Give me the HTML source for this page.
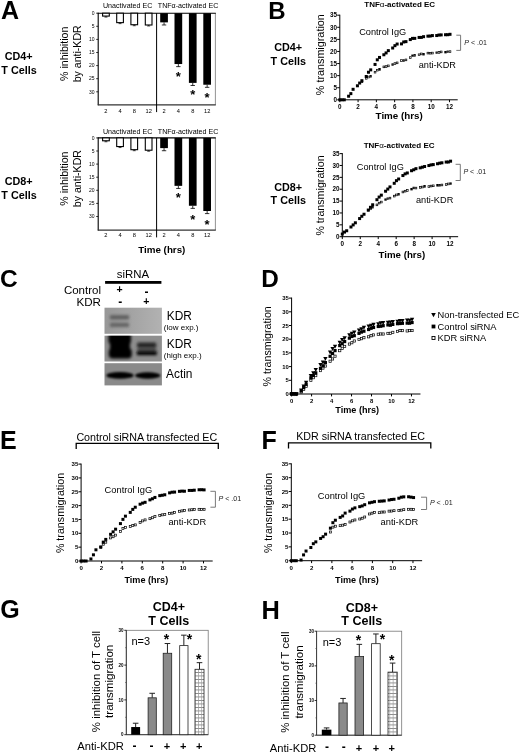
<!DOCTYPE html>
<html><head><meta charset="utf-8"><title>Figure</title>
<style>
html,body{margin:0;padding:0;background:#fff;}
body{width:520px;height:754px;overflow:hidden;}
svg{display:block;font-family:"Liberation Sans", Arial, sans-serif;}
svg text{font-family:"Liberation Sans", Arial, sans-serif;}
</style></head><body>
<svg width="520" height="754" viewBox="0 0 520 754">
<rect width="520" height="754" fill="#fff"/>
<text x="1.00" y="19.10" text-anchor="start" style="font-size:25px;font-weight:bold;" fill="#000">A</text>
<text x="268.20" y="18.50" text-anchor="start" style="font-size:24px;font-weight:bold;" fill="#000">B</text>
<text x="0.10" y="287.40" text-anchor="start" style="font-size:24.5px;font-weight:bold;" fill="#000">C</text>
<text x="261.30" y="286.90" text-anchor="start" style="font-size:24.3px;font-weight:bold;" fill="#000">D</text>
<text x="0.05" y="448.50" text-anchor="start" style="font-size:25px;font-weight:bold;" fill="#000">E</text>
<text x="261.60" y="448.50" text-anchor="start" style="font-size:25px;font-weight:bold;" fill="#000">F</text>
<text x="0.30" y="618.20" text-anchor="start" style="font-size:25px;font-weight:bold;" fill="#000">G</text>
<text x="261.60" y="618.50" text-anchor="start" style="font-size:25.4px;font-weight:bold;" fill="#000">H</text>
<line x1="215.40" y1="13.20" x2="215.40" y2="104.80" stroke="#777" stroke-width="0.8"/>
<line x1="98.20" y1="12.80" x2="98.20" y2="105.20" stroke="#000" stroke-width="1.1"/>
<line x1="97.80" y1="13.20" x2="215.80" y2="13.20" stroke="#000" stroke-width="1.1"/>
<line x1="97.80" y1="104.80" x2="215.80" y2="104.80" stroke="#333" stroke-width="1.2"/>
<line x1="156.60" y1="13.20" x2="156.60" y2="112.10" stroke="#000" stroke-width="1.0"/>
<line x1="96.20" y1="13.20" x2="98.20" y2="13.20" stroke="#000" stroke-width="0.8"/>
<text x="94.60" y="14.99" text-anchor="end" style="font-size:5.0px;" fill="#000">0</text>
<line x1="96.20" y1="26.30" x2="98.20" y2="26.30" stroke="#000" stroke-width="0.8"/>
<text x="94.60" y="28.09" text-anchor="end" style="font-size:5.0px;" fill="#000">5</text>
<line x1="96.20" y1="39.40" x2="98.20" y2="39.40" stroke="#000" stroke-width="0.8"/>
<text x="94.60" y="41.19" text-anchor="end" style="font-size:5.0px;" fill="#000">10</text>
<line x1="96.20" y1="52.50" x2="98.20" y2="52.50" stroke="#000" stroke-width="0.8"/>
<text x="94.60" y="54.29" text-anchor="end" style="font-size:5.0px;" fill="#000">15</text>
<line x1="96.20" y1="65.60" x2="98.20" y2="65.60" stroke="#000" stroke-width="0.8"/>
<text x="94.60" y="67.39" text-anchor="end" style="font-size:5.0px;" fill="#000">20</text>
<line x1="96.20" y1="78.70" x2="98.20" y2="78.70" stroke="#000" stroke-width="0.8"/>
<text x="94.60" y="80.49" text-anchor="end" style="font-size:5.0px;" fill="#000">25</text>
<line x1="96.20" y1="91.80" x2="98.20" y2="91.80" stroke="#000" stroke-width="0.8"/>
<text x="94.60" y="93.59" text-anchor="end" style="font-size:5.0px;" fill="#000">30</text>
<rect x="102.60" y="13.20" width="6.70" height="2.88" fill="#fff" stroke="#000" stroke-width="1.1"/>
<line x1="105.95" y1="16.08" x2="105.95" y2="17.08" stroke="#000" stroke-width="0.7"/>
<line x1="104.45" y1="17.08" x2="107.45" y2="17.08" stroke="#000" stroke-width="0.7"/>
<rect x="116.70" y="13.20" width="6.70" height="9.43" fill="#fff" stroke="#000" stroke-width="1.1"/>
<line x1="120.05" y1="22.63" x2="120.05" y2="23.63" stroke="#000" stroke-width="0.7"/>
<line x1="118.55" y1="23.63" x2="121.55" y2="23.63" stroke="#000" stroke-width="0.7"/>
<rect x="130.90" y="13.20" width="6.70" height="11.53" fill="#fff" stroke="#000" stroke-width="1.1"/>
<line x1="134.25" y1="24.73" x2="134.25" y2="25.73" stroke="#000" stroke-width="0.7"/>
<line x1="132.75" y1="25.73" x2="135.75" y2="25.73" stroke="#000" stroke-width="0.7"/>
<rect x="145.30" y="13.20" width="6.70" height="11.79" fill="#fff" stroke="#000" stroke-width="1.1"/>
<line x1="148.65" y1="24.99" x2="148.65" y2="25.99" stroke="#000" stroke-width="0.7"/>
<line x1="147.15" y1="25.99" x2="150.15" y2="25.99" stroke="#000" stroke-width="0.7"/>
<rect x="160.20" y="13.20" width="7.70" height="9.17" fill="#000"/>
<line x1="164.05" y1="22.37" x2="164.05" y2="24.97" stroke="#000" stroke-width="0.8"/>
<line x1="161.85" y1="24.97" x2="166.25" y2="24.97" stroke="#000" stroke-width="0.8"/>
<rect x="174.50" y="13.20" width="7.70" height="50.83" fill="#000"/>
<line x1="178.35" y1="64.03" x2="178.35" y2="66.63" stroke="#000" stroke-width="0.8"/>
<line x1="176.15" y1="66.63" x2="180.55" y2="66.63" stroke="#000" stroke-width="0.8"/>
<rect x="188.90" y="13.20" width="7.70" height="69.69" fill="#000"/>
<line x1="192.75" y1="82.89" x2="192.75" y2="85.49" stroke="#000" stroke-width="0.8"/>
<line x1="190.55" y1="85.49" x2="194.95" y2="85.49" stroke="#000" stroke-width="0.8"/>
<rect x="203.30" y="13.20" width="7.70" height="71.53" fill="#000"/>
<line x1="207.15" y1="84.73" x2="207.15" y2="87.33" stroke="#000" stroke-width="0.8"/>
<line x1="204.95" y1="87.33" x2="209.35" y2="87.33" stroke="#000" stroke-width="0.8"/>
<text x="178.35" y="80.65" text-anchor="middle" style="font-size:13px;font-weight:bold;" fill="#000">*</text>
<text x="192.75" y="99.15" text-anchor="middle" style="font-size:13px;font-weight:bold;" fill="#000">*</text>
<text x="207.15" y="102.05" text-anchor="middle" style="font-size:13px;font-weight:bold;" fill="#000">*</text>
<text x="105.95" y="113.14" text-anchor="middle" style="font-size:5.7px;" fill="#000">2</text>
<text x="120.05" y="113.14" text-anchor="middle" style="font-size:5.7px;" fill="#000">4</text>
<text x="134.25" y="113.14" text-anchor="middle" style="font-size:5.7px;" fill="#000">8</text>
<text x="148.65" y="113.14" text-anchor="middle" style="font-size:5.7px;" fill="#000">12</text>
<text x="164.05" y="113.14" text-anchor="middle" style="font-size:5.7px;" fill="#000">2</text>
<text x="178.35" y="113.14" text-anchor="middle" style="font-size:5.7px;" fill="#000">4</text>
<text x="192.75" y="113.14" text-anchor="middle" style="font-size:5.7px;" fill="#000">8</text>
<text x="207.15" y="113.14" text-anchor="middle" style="font-size:5.7px;" fill="#000">12</text>
<text x="103.00" y="8.30" text-anchor="start" style="font-size:7.1px;" fill="#000">Unactivated EC</text>
<text x="157.80" y="8.30" text-anchor="start" style="font-size:7.1px;" fill="#000">TNFα-activated EC</text>
<line x1="215.40" y1="137.90" x2="215.40" y2="230.10" stroke="#777" stroke-width="0.8"/>
<line x1="98.20" y1="137.50" x2="98.20" y2="230.50" stroke="#000" stroke-width="1.1"/>
<line x1="97.80" y1="137.90" x2="215.80" y2="137.90" stroke="#000" stroke-width="1.1"/>
<line x1="97.80" y1="230.10" x2="215.80" y2="230.10" stroke="#333" stroke-width="1.2"/>
<line x1="156.60" y1="137.90" x2="156.60" y2="237.40" stroke="#000" stroke-width="1.0"/>
<line x1="96.20" y1="137.90" x2="98.20" y2="137.90" stroke="#000" stroke-width="0.8"/>
<text x="94.60" y="139.69" text-anchor="end" style="font-size:5.0px;" fill="#000">0</text>
<line x1="96.20" y1="151.00" x2="98.20" y2="151.00" stroke="#000" stroke-width="0.8"/>
<text x="94.60" y="152.79" text-anchor="end" style="font-size:5.0px;" fill="#000">5</text>
<line x1="96.20" y1="164.10" x2="98.20" y2="164.10" stroke="#000" stroke-width="0.8"/>
<text x="94.60" y="165.89" text-anchor="end" style="font-size:5.0px;" fill="#000">10</text>
<line x1="96.20" y1="177.20" x2="98.20" y2="177.20" stroke="#000" stroke-width="0.8"/>
<text x="94.60" y="178.99" text-anchor="end" style="font-size:5.0px;" fill="#000">15</text>
<line x1="96.20" y1="190.30" x2="98.20" y2="190.30" stroke="#000" stroke-width="0.8"/>
<text x="94.60" y="192.09" text-anchor="end" style="font-size:5.0px;" fill="#000">20</text>
<line x1="96.20" y1="203.40" x2="98.20" y2="203.40" stroke="#000" stroke-width="0.8"/>
<text x="94.60" y="205.19" text-anchor="end" style="font-size:5.0px;" fill="#000">25</text>
<line x1="96.20" y1="216.50" x2="98.20" y2="216.50" stroke="#000" stroke-width="0.8"/>
<text x="94.60" y="218.29" text-anchor="end" style="font-size:5.0px;" fill="#000">30</text>
<rect x="102.60" y="137.90" width="6.70" height="2.88" fill="#fff" stroke="#000" stroke-width="1.1"/>
<line x1="105.95" y1="140.78" x2="105.95" y2="141.78" stroke="#000" stroke-width="0.7"/>
<line x1="104.45" y1="141.78" x2="107.45" y2="141.78" stroke="#000" stroke-width="0.7"/>
<rect x="116.70" y="137.90" width="6.70" height="8.65" fill="#fff" stroke="#000" stroke-width="1.1"/>
<line x1="120.05" y1="146.55" x2="120.05" y2="147.55" stroke="#000" stroke-width="0.7"/>
<line x1="118.55" y1="147.55" x2="121.55" y2="147.55" stroke="#000" stroke-width="0.7"/>
<rect x="130.90" y="137.90" width="6.70" height="11.79" fill="#fff" stroke="#000" stroke-width="1.1"/>
<line x1="134.25" y1="149.69" x2="134.25" y2="150.69" stroke="#000" stroke-width="0.7"/>
<line x1="132.75" y1="150.69" x2="135.75" y2="150.69" stroke="#000" stroke-width="0.7"/>
<rect x="145.30" y="137.90" width="6.70" height="12.31" fill="#fff" stroke="#000" stroke-width="1.1"/>
<line x1="148.65" y1="150.21" x2="148.65" y2="151.21" stroke="#000" stroke-width="0.7"/>
<line x1="147.15" y1="151.21" x2="150.15" y2="151.21" stroke="#000" stroke-width="0.7"/>
<rect x="160.20" y="137.90" width="7.70" height="10.22" fill="#000"/>
<line x1="164.05" y1="148.12" x2="164.05" y2="150.72" stroke="#000" stroke-width="0.8"/>
<line x1="161.85" y1="150.72" x2="166.25" y2="150.72" stroke="#000" stroke-width="0.8"/>
<rect x="174.50" y="137.90" width="7.70" height="47.95" fill="#000"/>
<line x1="178.35" y1="185.85" x2="178.35" y2="188.45" stroke="#000" stroke-width="0.8"/>
<line x1="176.15" y1="188.45" x2="180.55" y2="188.45" stroke="#000" stroke-width="0.8"/>
<rect x="188.90" y="137.90" width="7.70" height="67.86" fill="#000"/>
<line x1="192.75" y1="205.76" x2="192.75" y2="208.36" stroke="#000" stroke-width="0.8"/>
<line x1="190.55" y1="208.36" x2="194.95" y2="208.36" stroke="#000" stroke-width="0.8"/>
<rect x="203.30" y="137.90" width="7.70" height="73.10" fill="#000"/>
<line x1="207.15" y1="211.00" x2="207.15" y2="213.60" stroke="#000" stroke-width="0.8"/>
<line x1="204.95" y1="213.60" x2="209.35" y2="213.60" stroke="#000" stroke-width="0.8"/>
<text x="178.35" y="201.85" text-anchor="middle" style="font-size:13px;font-weight:bold;" fill="#000">*</text>
<text x="192.75" y="223.65" text-anchor="middle" style="font-size:13px;font-weight:bold;" fill="#000">*</text>
<text x="207.15" y="229.45" text-anchor="middle" style="font-size:13px;font-weight:bold;" fill="#000">*</text>
<text x="105.95" y="237.24" text-anchor="middle" style="font-size:5.7px;" fill="#000">2</text>
<text x="120.05" y="237.24" text-anchor="middle" style="font-size:5.7px;" fill="#000">4</text>
<text x="134.25" y="237.24" text-anchor="middle" style="font-size:5.7px;" fill="#000">8</text>
<text x="148.65" y="237.24" text-anchor="middle" style="font-size:5.7px;" fill="#000">12</text>
<text x="164.05" y="237.24" text-anchor="middle" style="font-size:5.7px;" fill="#000">2</text>
<text x="178.35" y="237.24" text-anchor="middle" style="font-size:5.7px;" fill="#000">4</text>
<text x="192.75" y="237.24" text-anchor="middle" style="font-size:5.7px;" fill="#000">8</text>
<text x="207.15" y="237.24" text-anchor="middle" style="font-size:5.7px;" fill="#000">12</text>
<text x="103.00" y="134.00" text-anchor="start" style="font-size:7.1px;" fill="#000">Unactivated EC</text>
<text x="157.80" y="134.00" text-anchor="start" style="font-size:7.1px;" fill="#000">TNFα-activated EC</text>
<text x="161.80" y="252.91" text-anchor="middle" style="font-size:9.8px;font-weight:bold;" fill="#000">Time (hrs)</text>
<text x="18.60" y="60.27" text-anchor="middle" style="font-size:10.8px;font-weight:bold;" fill="#000">CD4+</text>
<text x="19.00" y="73.67" text-anchor="middle" style="font-size:10.8px;font-weight:bold;" fill="#000">T Cells</text>
<text x="18.60" y="185.27" text-anchor="middle" style="font-size:10.8px;font-weight:bold;" fill="#000">CD8+</text>
<text x="19.00" y="198.97" text-anchor="middle" style="font-size:10.8px;font-weight:bold;" fill="#000">T Cells</text>
<text x="68.19" y="53.80" text-anchor="middle" style="font-size:10.6px;" transform="rotate(-90 68.19 53.80)">% inhibition</text>
<text x="81.49" y="53.80" text-anchor="middle" style="font-size:10.6px;" transform="rotate(-90 81.49 53.80)">by anti-KDR</text>
<text x="68.19" y="178.60" text-anchor="middle" style="font-size:10.6px;" transform="rotate(-90 68.19 178.60)">% inhibition</text>
<text x="81.49" y="178.60" text-anchor="middle" style="font-size:10.6px;" transform="rotate(-90 81.49 178.60)">by anti-KDR</text>
<line x1="339.80" y1="100.30" x2="339.80" y2="14.70" stroke="#000" stroke-width="1.0"/>
<line x1="339.30" y1="99.80" x2="457.71" y2="99.80" stroke="#000" stroke-width="1.0"/>
<line x1="337.20" y1="99.80" x2="339.80" y2="99.80" stroke="#000" stroke-width="1.0"/>
<text x="337.00" y="102.06" text-anchor="end" style="font-size:6.3px;font-weight:bold;" fill="#000">0</text>
<line x1="337.20" y1="87.72" x2="339.80" y2="87.72" stroke="#000" stroke-width="1.0"/>
<text x="337.00" y="89.97" text-anchor="end" style="font-size:6.3px;font-weight:bold;" fill="#000">5</text>
<line x1="337.20" y1="75.63" x2="339.80" y2="75.63" stroke="#000" stroke-width="1.0"/>
<text x="337.00" y="77.89" text-anchor="end" style="font-size:6.3px;font-weight:bold;" fill="#000">10</text>
<line x1="337.20" y1="63.55" x2="339.80" y2="63.55" stroke="#000" stroke-width="1.0"/>
<text x="337.00" y="65.80" text-anchor="end" style="font-size:6.3px;font-weight:bold;" fill="#000">15</text>
<line x1="337.20" y1="51.46" x2="339.80" y2="51.46" stroke="#000" stroke-width="1.0"/>
<text x="337.00" y="53.72" text-anchor="end" style="font-size:6.3px;font-weight:bold;" fill="#000">20</text>
<line x1="337.20" y1="39.38" x2="339.80" y2="39.38" stroke="#000" stroke-width="1.0"/>
<text x="337.00" y="41.63" text-anchor="end" style="font-size:6.3px;font-weight:bold;" fill="#000">25</text>
<line x1="337.20" y1="27.29" x2="339.80" y2="27.29" stroke="#000" stroke-width="1.0"/>
<text x="337.00" y="29.55" text-anchor="end" style="font-size:6.3px;font-weight:bold;" fill="#000">30</text>
<line x1="337.20" y1="15.20" x2="339.80" y2="15.20" stroke="#000" stroke-width="1.0"/>
<text x="337.00" y="17.46" text-anchor="end" style="font-size:6.3px;font-weight:bold;" fill="#000">35</text>
<line x1="339.80" y1="99.80" x2="339.80" y2="102.20" stroke="#000" stroke-width="1.0"/>
<text x="339.80" y="109.36" text-anchor="middle" style="font-size:6.3px;font-weight:bold;" fill="#000">0</text>
<line x1="358.08" y1="99.80" x2="358.08" y2="102.20" stroke="#000" stroke-width="1.0"/>
<text x="358.08" y="109.36" text-anchor="middle" style="font-size:6.3px;font-weight:bold;" fill="#000">2</text>
<line x1="376.36" y1="99.80" x2="376.36" y2="102.20" stroke="#000" stroke-width="1.0"/>
<text x="376.36" y="109.36" text-anchor="middle" style="font-size:6.3px;font-weight:bold;" fill="#000">4</text>
<line x1="394.64" y1="99.80" x2="394.64" y2="102.20" stroke="#000" stroke-width="1.0"/>
<text x="394.64" y="109.36" text-anchor="middle" style="font-size:6.3px;font-weight:bold;" fill="#000">6</text>
<line x1="412.92" y1="99.80" x2="412.92" y2="102.20" stroke="#000" stroke-width="1.0"/>
<text x="412.92" y="109.36" text-anchor="middle" style="font-size:6.3px;font-weight:bold;" fill="#000">8</text>
<line x1="431.20" y1="99.80" x2="431.20" y2="102.20" stroke="#000" stroke-width="1.0"/>
<text x="431.20" y="109.36" text-anchor="middle" style="font-size:6.3px;font-weight:bold;" fill="#000">10</text>
<line x1="449.48" y1="99.80" x2="449.48" y2="102.20" stroke="#000" stroke-width="1.0"/>
<text x="449.48" y="109.36" text-anchor="middle" style="font-size:6.3px;font-weight:bold;" fill="#000">12</text>
<rect x="361.05" y="80.97" width="1.70" height="1.70" fill="#fff" stroke="#000" stroke-width="0.7"/><rect x="365.38" y="77.47" width="1.70" height="1.70" fill="#fff" stroke="#000" stroke-width="0.7"/><rect x="367.62" y="76.19" width="1.70" height="1.70" fill="#fff" stroke="#000" stroke-width="0.7"/><rect x="369.86" y="75.48" width="1.70" height="1.70" fill="#fff" stroke="#000" stroke-width="0.7"/><rect x="374.19" y="71.32" width="1.70" height="1.70" fill="#fff" stroke="#000" stroke-width="0.7"/><rect x="376.43" y="69.31" width="1.70" height="1.70" fill="#fff" stroke="#000" stroke-width="0.7"/><rect x="378.67" y="68.62" width="1.70" height="1.70" fill="#fff" stroke="#000" stroke-width="0.7"/><rect x="383.00" y="66.02" width="1.70" height="1.70" fill="#fff" stroke="#000" stroke-width="0.7"/><rect x="385.24" y="65.68" width="1.70" height="1.70" fill="#fff" stroke="#000" stroke-width="0.7"/><rect x="387.48" y="65.01" width="1.70" height="1.70" fill="#fff" stroke="#000" stroke-width="0.7"/><rect x="391.82" y="63.71" width="1.70" height="1.70" fill="#fff" stroke="#000" stroke-width="0.7"/><rect x="394.06" y="62.70" width="1.70" height="1.70" fill="#fff" stroke="#000" stroke-width="0.7"/><rect x="396.29" y="62.01" width="1.70" height="1.70" fill="#fff" stroke="#000" stroke-width="0.7"/><rect x="400.63" y="59.69" width="1.70" height="1.70" fill="#fff" stroke="#000" stroke-width="0.7"/><rect x="402.87" y="59.66" width="1.70" height="1.70" fill="#fff" stroke="#000" stroke-width="0.7"/><rect x="405.11" y="59.05" width="1.70" height="1.70" fill="#fff" stroke="#000" stroke-width="0.7"/><rect x="409.44" y="56.72" width="1.70" height="1.70" fill="#fff" stroke="#000" stroke-width="0.7"/><rect x="411.68" y="54.91" width="1.70" height="1.70" fill="#fff" stroke="#000" stroke-width="0.7"/><rect x="413.92" y="54.56" width="1.70" height="1.70" fill="#fff" stroke="#000" stroke-width="0.7"/><rect x="418.25" y="53.89" width="1.70" height="1.70" fill="#fff" stroke="#000" stroke-width="0.7"/><rect x="420.49" y="53.06" width="1.70" height="1.70" fill="#fff" stroke="#000" stroke-width="0.7"/><rect x="422.73" y="53.40" width="1.70" height="1.70" fill="#fff" stroke="#000" stroke-width="0.7"/><rect x="427.06" y="52.24" width="1.70" height="1.70" fill="#fff" stroke="#000" stroke-width="0.7"/><rect x="429.30" y="52.35" width="1.70" height="1.70" fill="#fff" stroke="#000" stroke-width="0.7"/><rect x="431.54" y="52.22" width="1.70" height="1.70" fill="#fff" stroke="#000" stroke-width="0.7"/><rect x="435.87" y="51.90" width="1.70" height="1.70" fill="#fff" stroke="#000" stroke-width="0.7"/><rect x="438.11" y="51.58" width="1.70" height="1.70" fill="#fff" stroke="#000" stroke-width="0.7"/><rect x="440.35" y="51.06" width="1.70" height="1.70" fill="#fff" stroke="#000" stroke-width="0.7"/><rect x="444.68" y="51.32" width="1.70" height="1.70" fill="#fff" stroke="#000" stroke-width="0.7"/><rect x="446.92" y="50.92" width="1.70" height="1.70" fill="#fff" stroke="#000" stroke-width="0.7"/><rect x="449.16" y="50.77" width="1.70" height="1.70" fill="#fff" stroke="#000" stroke-width="0.7"/>
<rect x="338.30" y="98.30" width="3.0" height="3.0" fill="#000"/><rect x="340.54" y="98.30" width="3.0" height="3.0" fill="#000"/><rect x="342.78" y="98.30" width="3.0" height="3.0" fill="#000"/><rect x="347.11" y="94.71" width="3.0" height="3.0" fill="#000"/><rect x="349.35" y="92.12" width="3.0" height="3.0" fill="#000"/><rect x="351.59" y="87.81" width="3.0" height="3.0" fill="#000"/><rect x="355.92" y="84.29" width="3.0" height="3.0" fill="#000"/><rect x="358.16" y="81.56" width="3.0" height="3.0" fill="#000"/><rect x="360.40" y="79.19" width="3.0" height="3.0" fill="#000"/><rect x="364.73" y="74.99" width="3.0" height="3.0" fill="#000"/><rect x="366.97" y="70.73" width="3.0" height="3.0" fill="#000"/><rect x="369.21" y="68.37" width="3.0" height="3.0" fill="#000"/><rect x="373.54" y="62.93" width="3.0" height="3.0" fill="#000"/><rect x="375.78" y="58.31" width="3.0" height="3.0" fill="#000"/><rect x="378.02" y="55.94" width="3.0" height="3.0" fill="#000"/><rect x="382.35" y="53.26" width="3.0" height="3.0" fill="#000"/><rect x="384.59" y="51.43" width="3.0" height="3.0" fill="#000"/><rect x="386.83" y="49.13" width="3.0" height="3.0" fill="#000"/><rect x="391.17" y="46.52" width="3.0" height="3.0" fill="#000"/><rect x="393.41" y="44.16" width="3.0" height="3.0" fill="#000"/><rect x="395.64" y="42.54" width="3.0" height="3.0" fill="#000"/><rect x="399.98" y="42.38" width="3.0" height="3.0" fill="#000"/><rect x="402.22" y="40.47" width="3.0" height="3.0" fill="#000"/><rect x="404.46" y="40.13" width="3.0" height="3.0" fill="#000"/><rect x="408.79" y="38.08" width="3.0" height="3.0" fill="#000"/><rect x="411.03" y="36.89" width="3.0" height="3.0" fill="#000"/><rect x="413.27" y="36.87" width="3.0" height="3.0" fill="#000"/><rect x="417.60" y="35.94" width="3.0" height="3.0" fill="#000"/><rect x="419.84" y="35.91" width="3.0" height="3.0" fill="#000"/><rect x="422.08" y="35.18" width="3.0" height="3.0" fill="#000"/><rect x="426.41" y="34.65" width="3.0" height="3.0" fill="#000"/><rect x="428.65" y="34.55" width="3.0" height="3.0" fill="#000"/><rect x="430.89" y="34.09" width="3.0" height="3.0" fill="#000"/><rect x="435.22" y="34.04" width="3.0" height="3.0" fill="#000"/><rect x="437.46" y="33.53" width="3.0" height="3.0" fill="#000"/><rect x="439.70" y="33.41" width="3.0" height="3.0" fill="#000"/><rect x="444.03" y="33.22" width="3.0" height="3.0" fill="#000"/><rect x="446.27" y="33.20" width="3.0" height="3.0" fill="#000"/><rect x="448.51" y="32.81" width="3.0" height="3.0" fill="#000"/>
<text x="399.70" y="7.26" text-anchor="middle" style="font-size:8.0px;font-weight:bold;" fill="#000">TNF<tspan style="font-weight:normal">α</tspan>-activated EC</text>
<text x="399.20" y="119.31" text-anchor="middle" style="font-size:9.8px;font-weight:bold;" fill="#000">Time (hrs)</text>
<text x="324.10" y="54.70" text-anchor="middle" style="font-size:10.8px;" transform="rotate(-90 324.10 54.70)">% transmigration</text>
<text x="359.20" y="34.99" text-anchor="start" style="font-size:9.2px;" fill="#000">Control IgG</text>
<text x="418.70" y="68.49" text-anchor="start" style="font-size:9.2px;" fill="#000">anti-KDR</text>
<path d="M456.30 35.20H460.60V50.40H456.30" fill="none" stroke="#6a6a6a" stroke-width="0.9"/>
<text x="464.20" y="45.00" text-anchor="start" style="font-size:7.1px;" fill="#222"><tspan style="font-style:italic">P</tspan> &lt; .01</text>
<line x1="342.30" y1="237.20" x2="342.30" y2="153.11" stroke="#000" stroke-width="1.0"/>
<line x1="341.80" y1="236.70" x2="458.14" y2="236.70" stroke="#000" stroke-width="1.0"/>
<line x1="339.70" y1="236.70" x2="342.30" y2="236.70" stroke="#000" stroke-width="1.0"/>
<text x="339.50" y="238.96" text-anchor="end" style="font-size:6.3px;font-weight:bold;" fill="#000">0</text>
<line x1="339.70" y1="224.83" x2="342.30" y2="224.83" stroke="#000" stroke-width="1.0"/>
<text x="339.50" y="227.09" text-anchor="end" style="font-size:6.3px;font-weight:bold;" fill="#000">5</text>
<line x1="339.70" y1="212.96" x2="342.30" y2="212.96" stroke="#000" stroke-width="1.0"/>
<text x="339.50" y="215.22" text-anchor="end" style="font-size:6.3px;font-weight:bold;" fill="#000">10</text>
<line x1="339.70" y1="201.09" x2="342.30" y2="201.09" stroke="#000" stroke-width="1.0"/>
<text x="339.50" y="203.35" text-anchor="end" style="font-size:6.3px;font-weight:bold;" fill="#000">15</text>
<line x1="339.70" y1="189.22" x2="342.30" y2="189.22" stroke="#000" stroke-width="1.0"/>
<text x="339.50" y="191.48" text-anchor="end" style="font-size:6.3px;font-weight:bold;" fill="#000">20</text>
<line x1="339.70" y1="177.35" x2="342.30" y2="177.35" stroke="#000" stroke-width="1.0"/>
<text x="339.50" y="179.61" text-anchor="end" style="font-size:6.3px;font-weight:bold;" fill="#000">25</text>
<line x1="339.70" y1="165.48" x2="342.30" y2="165.48" stroke="#000" stroke-width="1.0"/>
<text x="339.50" y="167.74" text-anchor="end" style="font-size:6.3px;font-weight:bold;" fill="#000">30</text>
<line x1="339.70" y1="153.61" x2="342.30" y2="153.61" stroke="#000" stroke-width="1.0"/>
<text x="339.50" y="155.87" text-anchor="end" style="font-size:6.3px;font-weight:bold;" fill="#000">35</text>
<line x1="342.30" y1="236.70" x2="342.30" y2="239.10" stroke="#000" stroke-width="1.0"/>
<text x="342.30" y="246.26" text-anchor="middle" style="font-size:6.3px;font-weight:bold;" fill="#000">0</text>
<line x1="360.26" y1="236.70" x2="360.26" y2="239.10" stroke="#000" stroke-width="1.0"/>
<text x="360.26" y="246.26" text-anchor="middle" style="font-size:6.3px;font-weight:bold;" fill="#000">2</text>
<line x1="378.22" y1="236.70" x2="378.22" y2="239.10" stroke="#000" stroke-width="1.0"/>
<text x="378.22" y="246.26" text-anchor="middle" style="font-size:6.3px;font-weight:bold;" fill="#000">4</text>
<line x1="396.18" y1="236.70" x2="396.18" y2="239.10" stroke="#000" stroke-width="1.0"/>
<text x="396.18" y="246.26" text-anchor="middle" style="font-size:6.3px;font-weight:bold;" fill="#000">6</text>
<line x1="414.14" y1="236.70" x2="414.14" y2="239.10" stroke="#000" stroke-width="1.0"/>
<text x="414.14" y="246.26" text-anchor="middle" style="font-size:6.3px;font-weight:bold;" fill="#000">8</text>
<line x1="432.10" y1="236.70" x2="432.10" y2="239.10" stroke="#000" stroke-width="1.0"/>
<text x="432.10" y="246.26" text-anchor="middle" style="font-size:6.3px;font-weight:bold;" fill="#000">10</text>
<line x1="450.06" y1="236.70" x2="450.06" y2="239.10" stroke="#000" stroke-width="1.0"/>
<text x="450.06" y="246.26" text-anchor="middle" style="font-size:6.3px;font-weight:bold;" fill="#000">12</text>
<rect x="367.42" y="209.37" width="1.70" height="1.70" fill="#fff" stroke="#000" stroke-width="0.7"/><rect x="369.62" y="207.99" width="1.70" height="1.70" fill="#fff" stroke="#000" stroke-width="0.7"/><rect x="371.82" y="206.40" width="1.70" height="1.70" fill="#fff" stroke="#000" stroke-width="0.7"/><rect x="376.08" y="204.02" width="1.70" height="1.70" fill="#fff" stroke="#000" stroke-width="0.7"/><rect x="378.28" y="202.25" width="1.70" height="1.70" fill="#fff" stroke="#000" stroke-width="0.7"/><rect x="380.48" y="201.19" width="1.70" height="1.70" fill="#fff" stroke="#000" stroke-width="0.7"/><rect x="384.73" y="198.80" width="1.70" height="1.70" fill="#fff" stroke="#000" stroke-width="0.7"/><rect x="386.93" y="197.85" width="1.70" height="1.70" fill="#fff" stroke="#000" stroke-width="0.7"/><rect x="389.13" y="197.24" width="1.70" height="1.70" fill="#fff" stroke="#000" stroke-width="0.7"/><rect x="393.39" y="195.26" width="1.70" height="1.70" fill="#fff" stroke="#000" stroke-width="0.7"/><rect x="395.59" y="194.06" width="1.70" height="1.70" fill="#fff" stroke="#000" stroke-width="0.7"/><rect x="397.79" y="193.47" width="1.70" height="1.70" fill="#fff" stroke="#000" stroke-width="0.7"/><rect x="402.05" y="191.14" width="1.70" height="1.70" fill="#fff" stroke="#000" stroke-width="0.7"/><rect x="404.25" y="190.30" width="1.70" height="1.70" fill="#fff" stroke="#000" stroke-width="0.7"/><rect x="406.45" y="189.63" width="1.70" height="1.70" fill="#fff" stroke="#000" stroke-width="0.7"/><rect x="410.70" y="188.32" width="1.70" height="1.70" fill="#fff" stroke="#000" stroke-width="0.7"/><rect x="412.90" y="187.11" width="1.70" height="1.70" fill="#fff" stroke="#000" stroke-width="0.7"/><rect x="415.10" y="187.21" width="1.70" height="1.70" fill="#fff" stroke="#000" stroke-width="0.7"/><rect x="419.36" y="186.56" width="1.70" height="1.70" fill="#fff" stroke="#000" stroke-width="0.7"/><rect x="421.56" y="186.17" width="1.70" height="1.70" fill="#fff" stroke="#000" stroke-width="0.7"/><rect x="423.76" y="185.57" width="1.70" height="1.70" fill="#fff" stroke="#000" stroke-width="0.7"/><rect x="428.02" y="185.69" width="1.70" height="1.70" fill="#fff" stroke="#000" stroke-width="0.7"/><rect x="430.22" y="185.19" width="1.70" height="1.70" fill="#fff" stroke="#000" stroke-width="0.7"/><rect x="432.42" y="184.95" width="1.70" height="1.70" fill="#fff" stroke="#000" stroke-width="0.7"/><rect x="436.67" y="184.49" width="1.70" height="1.70" fill="#fff" stroke="#000" stroke-width="0.7"/><rect x="438.87" y="184.42" width="1.70" height="1.70" fill="#fff" stroke="#000" stroke-width="0.7"/><rect x="441.07" y="184.13" width="1.70" height="1.70" fill="#fff" stroke="#000" stroke-width="0.7"/><rect x="445.33" y="183.65" width="1.70" height="1.70" fill="#fff" stroke="#000" stroke-width="0.7"/><rect x="447.53" y="183.09" width="1.70" height="1.70" fill="#fff" stroke="#000" stroke-width="0.7"/><rect x="449.73" y="182.77" width="1.70" height="1.70" fill="#fff" stroke="#000" stroke-width="0.7"/>
<rect x="340.80" y="232.55" width="3.0" height="3.0" fill="#000"/><rect x="343.00" y="230.58" width="3.0" height="3.0" fill="#000"/><rect x="345.20" y="229.24" width="3.0" height="3.0" fill="#000"/><rect x="349.46" y="225.50" width="3.0" height="3.0" fill="#000"/><rect x="351.66" y="223.40" width="3.0" height="3.0" fill="#000"/><rect x="353.86" y="221.30" width="3.0" height="3.0" fill="#000"/><rect x="358.11" y="217.07" width="3.0" height="3.0" fill="#000"/><rect x="360.31" y="214.78" width="3.0" height="3.0" fill="#000"/><rect x="362.51" y="212.74" width="3.0" height="3.0" fill="#000"/><rect x="366.77" y="208.54" width="3.0" height="3.0" fill="#000"/><rect x="368.97" y="205.81" width="3.0" height="3.0" fill="#000"/><rect x="371.17" y="203.29" width="3.0" height="3.0" fill="#000"/><rect x="375.43" y="198.20" width="3.0" height="3.0" fill="#000"/><rect x="377.63" y="195.56" width="3.0" height="3.0" fill="#000"/><rect x="379.83" y="193.65" width="3.0" height="3.0" fill="#000"/><rect x="384.08" y="189.72" width="3.0" height="3.0" fill="#000"/><rect x="386.28" y="187.56" width="3.0" height="3.0" fill="#000"/><rect x="388.48" y="185.42" width="3.0" height="3.0" fill="#000"/><rect x="392.74" y="181.81" width="3.0" height="3.0" fill="#000"/><rect x="394.94" y="179.16" width="3.0" height="3.0" fill="#000"/><rect x="397.14" y="177.50" width="3.0" height="3.0" fill="#000"/><rect x="401.40" y="174.05" width="3.0" height="3.0" fill="#000"/><rect x="403.60" y="172.36" width="3.0" height="3.0" fill="#000"/><rect x="405.80" y="171.47" width="3.0" height="3.0" fill="#000"/><rect x="410.05" y="169.22" width="3.0" height="3.0" fill="#000"/><rect x="412.25" y="168.26" width="3.0" height="3.0" fill="#000"/><rect x="414.45" y="167.16" width="3.0" height="3.0" fill="#000"/><rect x="418.71" y="166.32" width="3.0" height="3.0" fill="#000"/><rect x="420.91" y="165.68" width="3.0" height="3.0" fill="#000"/><rect x="423.11" y="165.02" width="3.0" height="3.0" fill="#000"/><rect x="427.37" y="164.04" width="3.0" height="3.0" fill="#000"/><rect x="429.57" y="163.39" width="3.0" height="3.0" fill="#000"/><rect x="431.77" y="163.10" width="3.0" height="3.0" fill="#000"/><rect x="436.02" y="162.24" width="3.0" height="3.0" fill="#000"/><rect x="438.22" y="161.67" width="3.0" height="3.0" fill="#000"/><rect x="440.42" y="161.30" width="3.0" height="3.0" fill="#000"/><rect x="444.68" y="160.55" width="3.0" height="3.0" fill="#000"/><rect x="446.88" y="160.50" width="3.0" height="3.0" fill="#000"/><rect x="449.08" y="159.68" width="3.0" height="3.0" fill="#000"/>
<text x="399.10" y="148.06" text-anchor="middle" style="font-size:8.0px;font-weight:bold;" fill="#000">TNF<tspan style="font-weight:normal">α</tspan>-activated EC</text>
<text x="401.90" y="258.07" text-anchor="middle" style="font-size:9.7px;font-weight:bold;" fill="#000">Time (hrs)</text>
<text x="324.10" y="195.50" text-anchor="middle" style="font-size:10.7px;" transform="rotate(-90 324.10 195.50)">% transmigration</text>
<text x="356.80" y="169.99" text-anchor="start" style="font-size:9.2px;" fill="#000">Control IgG</text>
<text x="416.00" y="203.49" text-anchor="start" style="font-size:9.2px;" fill="#000">anti-KDR</text>
<path d="M455.60 164.30H460.30V180.50H455.60" fill="none" stroke="#6a6a6a" stroke-width="0.9"/>
<text x="463.40" y="173.50" text-anchor="start" style="font-size:7.1px;" fill="#222"><tspan style="font-style:italic">P</tspan> &lt; .01</text>
<text x="288.10" y="51.37" text-anchor="middle" style="font-size:10.8px;font-weight:bold;" fill="#000">CD4+</text>
<text x="288.30" y="64.67" text-anchor="middle" style="font-size:10.8px;font-weight:bold;" fill="#000">T Cells</text>
<text x="288.10" y="191.27" text-anchor="middle" style="font-size:10.8px;font-weight:bold;" fill="#000">CD8+</text>
<text x="288.30" y="204.47" text-anchor="middle" style="font-size:10.8px;font-weight:bold;" fill="#000">T Cells</text>
<text x="132.90" y="278.38" text-anchor="middle" style="font-size:11.4px;" fill="#000">siRNA</text>
<rect x="105.10" y="281.00" width="56.30" height="2.80" fill="#000"/>
<text x="101.00" y="294.02" text-anchor="end" style="font-size:11.5px;" fill="#000">Control</text>
<text x="101.00" y="305.95" text-anchor="end" style="font-size:11.6px;" fill="#000">KDR</text>
<text x="119.60" y="293.06" text-anchor="middle" style="font-size:10.5px;font-weight:bold;" fill="#000">+</text>
<text x="146.40" y="295.50" text-anchor="middle" style="font-size:12px;font-weight:bold;" fill="#000">-</text>
<text x="120.20" y="305.90" text-anchor="middle" style="font-size:12px;font-weight:bold;" fill="#000">-</text>
<text x="146.40" y="305.36" text-anchor="middle" style="font-size:10.5px;font-weight:bold;" fill="#000">+</text>
<defs>
<filter id="b1" x="-20%" y="-50%" width="140%" height="200%"><feGaussianBlur stdDeviation="1.1"/></filter>
<filter id="b2" x="-20%" y="-50%" width="140%" height="200%"><feGaussianBlur stdDeviation="1.6"/></filter>
<linearGradient id="g1" x1="0" x2="1" y1="0" y2="0"><stop offset="0" stop-color="#989898"/><stop offset="0.5" stop-color="#a4a4a4"/><stop offset="1" stop-color="#b2b2b2"/></linearGradient>
<clipPath id="c1"><rect x="104.5" y="307.7" width="57.4" height="26.1"/></clipPath>
<clipPath id="c2"><rect x="104.5" y="335.7" width="57.4" height="25.8"/></clipPath>
<clipPath id="c3"><rect x="104.5" y="363.2" width="57.4" height="22.2"/></clipPath>
<pattern id="grid" width="3.3" height="3.5" patternUnits="userSpaceOnUse"><rect width="3.3" height="3.5" fill="#fff"/><path d="M0 0.4H3.3" stroke="#777" stroke-width="0.8" fill="none"/><path d="M0.4 0V3.5" stroke="#999" stroke-width="0.7" fill="none"/></pattern>
</defs>
<rect x="104.50" y="307.70" width="57.40" height="26.10" fill="url(#g1)"/>
<g clip-path="url(#c1)" filter="url(#b2)"><rect x="110" y="315.2" width="19" height="4.2" fill="#5c5c5c"/><rect x="110" y="322.8" width="19" height="4.2" fill="#626262"/></g>
<rect x="104.50" y="335.70" width="57.40" height="25.80" fill="#8e8e8e"/>
<g clip-path="url(#c2)" filter="url(#b2)"><rect x="108.5" y="332" width="22.5" height="12" rx="3" fill="#000"/><rect x="110" y="334" width="20" height="24" rx="3" fill="#000"/><rect x="108.8" y="348" width="23" height="10.5" rx="4" fill="#000"/><rect x="137.5" y="342" width="18.5" height="13" fill="#555"/><rect x="137.2" y="343.2" width="19" height="4" fill="#1a1a1a"/><rect x="136.8" y="350.6" width="20" height="4.6" fill="#000"/></g>
<rect x="104.50" y="363.20" width="57.40" height="22.20" fill="#8a8a8a"/>
<g clip-path="url(#c3)" filter="url(#b1)"><ellipse cx="120" cy="375.4" rx="13.6" ry="3.4" fill="#000"/><ellipse cx="147.7" cy="375.5" rx="12.6" ry="3.3" fill="#000"/></g>
<text x="166.80" y="320.26" text-anchor="start" style="font-size:11.9px;" fill="#000">KDR</text>
<text x="163.80" y="330.16" text-anchor="start" style="font-size:8.0px;" fill="#000">(low exp.)</text>
<text x="166.80" y="348.46" text-anchor="start" style="font-size:11.9px;" fill="#000">KDR</text>
<text x="163.80" y="358.46" text-anchor="start" style="font-size:8.0px;" fill="#000">(high exp.)</text>
<text x="166.00" y="377.96" text-anchor="start" style="font-size:11.9px;" fill="#000">Actin</text>
<line x1="291.60" y1="394.50" x2="291.60" y2="297.60" stroke="#000" stroke-width="1.0"/>
<line x1="291.10" y1="394.00" x2="420.47" y2="394.00" stroke="#000" stroke-width="1.0"/>
<line x1="289.00" y1="394.00" x2="291.60" y2="394.00" stroke="#000" stroke-width="1.0"/>
<text x="288.80" y="396.11" text-anchor="end" style="font-size:5.9px;font-weight:bold;" fill="#000">0</text>
<line x1="289.00" y1="380.30" x2="291.60" y2="380.30" stroke="#000" stroke-width="1.0"/>
<text x="288.80" y="382.41" text-anchor="end" style="font-size:5.9px;font-weight:bold;" fill="#000">5</text>
<line x1="289.00" y1="366.60" x2="291.60" y2="366.60" stroke="#000" stroke-width="1.0"/>
<text x="288.80" y="368.71" text-anchor="end" style="font-size:5.9px;font-weight:bold;" fill="#000">10</text>
<line x1="289.00" y1="352.90" x2="291.60" y2="352.90" stroke="#000" stroke-width="1.0"/>
<text x="288.80" y="355.01" text-anchor="end" style="font-size:5.9px;font-weight:bold;" fill="#000">15</text>
<line x1="289.00" y1="339.20" x2="291.60" y2="339.20" stroke="#000" stroke-width="1.0"/>
<text x="288.80" y="341.31" text-anchor="end" style="font-size:5.9px;font-weight:bold;" fill="#000">20</text>
<line x1="289.00" y1="325.50" x2="291.60" y2="325.50" stroke="#000" stroke-width="1.0"/>
<text x="288.80" y="327.61" text-anchor="end" style="font-size:5.9px;font-weight:bold;" fill="#000">25</text>
<line x1="289.00" y1="311.80" x2="291.60" y2="311.80" stroke="#000" stroke-width="1.0"/>
<text x="288.80" y="313.91" text-anchor="end" style="font-size:5.9px;font-weight:bold;" fill="#000">30</text>
<line x1="289.00" y1="298.10" x2="291.60" y2="298.10" stroke="#000" stroke-width="1.0"/>
<text x="288.80" y="300.21" text-anchor="end" style="font-size:5.9px;font-weight:bold;" fill="#000">35</text>
<line x1="291.60" y1="394.00" x2="291.60" y2="396.40" stroke="#000" stroke-width="1.0"/>
<text x="291.60" y="403.41" text-anchor="middle" style="font-size:5.9px;font-weight:bold;" fill="#000">0</text>
<line x1="311.58" y1="394.00" x2="311.58" y2="396.40" stroke="#000" stroke-width="1.0"/>
<text x="311.58" y="403.41" text-anchor="middle" style="font-size:5.9px;font-weight:bold;" fill="#000">2</text>
<line x1="331.56" y1="394.00" x2="331.56" y2="396.40" stroke="#000" stroke-width="1.0"/>
<text x="331.56" y="403.41" text-anchor="middle" style="font-size:5.9px;font-weight:bold;" fill="#000">4</text>
<line x1="351.54" y1="394.00" x2="351.54" y2="396.40" stroke="#000" stroke-width="1.0"/>
<text x="351.54" y="403.41" text-anchor="middle" style="font-size:5.9px;font-weight:bold;" fill="#000">6</text>
<line x1="371.52" y1="394.00" x2="371.52" y2="396.40" stroke="#000" stroke-width="1.0"/>
<text x="371.52" y="403.41" text-anchor="middle" style="font-size:5.9px;font-weight:bold;" fill="#000">8</text>
<line x1="391.50" y1="394.00" x2="391.50" y2="396.40" stroke="#000" stroke-width="1.0"/>
<text x="391.50" y="403.41" text-anchor="middle" style="font-size:5.9px;font-weight:bold;" fill="#000">10</text>
<line x1="411.48" y1="394.00" x2="411.48" y2="396.40" stroke="#000" stroke-width="1.0"/>
<text x="411.48" y="403.41" text-anchor="middle" style="font-size:5.9px;font-weight:bold;" fill="#000">12</text>
<rect x="290.50" y="392.90" width="2.20" height="2.20" fill="#fff" stroke="#000" stroke-width="0.7"/><rect x="292.95" y="392.90" width="2.20" height="2.20" fill="#fff" stroke="#000" stroke-width="0.7"/><rect x="295.40" y="392.90" width="2.20" height="2.20" fill="#fff" stroke="#000" stroke-width="0.7"/><rect x="300.13" y="390.93" width="2.20" height="2.20" fill="#fff" stroke="#000" stroke-width="0.7"/><rect x="302.58" y="388.36" width="2.20" height="2.20" fill="#fff" stroke="#000" stroke-width="0.7"/><rect x="305.03" y="385.19" width="2.20" height="2.20" fill="#fff" stroke="#000" stroke-width="0.7"/><rect x="309.76" y="379.14" width="2.20" height="2.20" fill="#fff" stroke="#000" stroke-width="0.7"/><rect x="312.21" y="376.60" width="2.20" height="2.20" fill="#fff" stroke="#000" stroke-width="0.7"/><rect x="314.66" y="374.52" width="2.20" height="2.20" fill="#fff" stroke="#000" stroke-width="0.7"/><rect x="319.39" y="369.51" width="2.20" height="2.20" fill="#fff" stroke="#000" stroke-width="0.7"/><rect x="321.84" y="366.99" width="2.20" height="2.20" fill="#fff" stroke="#000" stroke-width="0.7"/><rect x="324.29" y="364.94" width="2.20" height="2.20" fill="#fff" stroke="#000" stroke-width="0.7"/><rect x="329.02" y="360.12" width="2.20" height="2.20" fill="#fff" stroke="#000" stroke-width="0.7"/><rect x="331.47" y="357.86" width="2.20" height="2.20" fill="#fff" stroke="#000" stroke-width="0.7"/><rect x="333.92" y="355.09" width="2.20" height="2.20" fill="#fff" stroke="#000" stroke-width="0.7"/><rect x="338.65" y="349.57" width="2.20" height="2.20" fill="#fff" stroke="#000" stroke-width="0.7"/><rect x="341.10" y="347.22" width="2.20" height="2.20" fill="#fff" stroke="#000" stroke-width="0.7"/><rect x="343.55" y="345.28" width="2.20" height="2.20" fill="#fff" stroke="#000" stroke-width="0.7"/><rect x="348.28" y="342.97" width="2.20" height="2.20" fill="#fff" stroke="#000" stroke-width="0.7"/><rect x="350.73" y="341.66" width="2.20" height="2.20" fill="#fff" stroke="#000" stroke-width="0.7"/><rect x="353.18" y="339.89" width="2.20" height="2.20" fill="#fff" stroke="#000" stroke-width="0.7"/><rect x="357.91" y="338.29" width="2.20" height="2.20" fill="#fff" stroke="#000" stroke-width="0.7"/><rect x="360.36" y="337.60" width="2.20" height="2.20" fill="#fff" stroke="#000" stroke-width="0.7"/><rect x="362.81" y="336.59" width="2.20" height="2.20" fill="#fff" stroke="#000" stroke-width="0.7"/><rect x="367.54" y="335.72" width="2.20" height="2.20" fill="#fff" stroke="#000" stroke-width="0.7"/><rect x="369.99" y="334.63" width="2.20" height="2.20" fill="#fff" stroke="#000" stroke-width="0.7"/><rect x="372.44" y="333.81" width="2.20" height="2.20" fill="#fff" stroke="#000" stroke-width="0.7"/><rect x="377.17" y="333.13" width="2.20" height="2.20" fill="#fff" stroke="#000" stroke-width="0.7"/><rect x="379.62" y="332.86" width="2.20" height="2.20" fill="#fff" stroke="#000" stroke-width="0.7"/><rect x="382.07" y="332.91" width="2.20" height="2.20" fill="#fff" stroke="#000" stroke-width="0.7"/><rect x="386.80" y="332.30" width="2.20" height="2.20" fill="#fff" stroke="#000" stroke-width="0.7"/><rect x="389.25" y="332.20" width="2.20" height="2.20" fill="#fff" stroke="#000" stroke-width="0.7"/><rect x="391.70" y="331.25" width="2.20" height="2.20" fill="#fff" stroke="#000" stroke-width="0.7"/><rect x="396.43" y="330.28" width="2.20" height="2.20" fill="#fff" stroke="#000" stroke-width="0.7"/><rect x="398.88" y="329.47" width="2.20" height="2.20" fill="#fff" stroke="#000" stroke-width="0.7"/><rect x="401.33" y="329.52" width="2.20" height="2.20" fill="#fff" stroke="#000" stroke-width="0.7"/><rect x="406.06" y="329.84" width="2.20" height="2.20" fill="#fff" stroke="#000" stroke-width="0.7"/><rect x="408.51" y="329.48" width="2.20" height="2.20" fill="#fff" stroke="#000" stroke-width="0.7"/><rect x="410.96" y="329.46" width="2.20" height="2.20" fill="#fff" stroke="#000" stroke-width="0.7"/>
<rect x="290.00" y="392.40" width="3.2" height="3.2" fill="#000"/><rect x="292.45" y="392.40" width="3.2" height="3.2" fill="#000"/><rect x="294.90" y="392.40" width="3.2" height="3.2" fill="#000"/><rect x="299.63" y="389.30" width="3.2" height="3.2" fill="#000"/><rect x="302.08" y="386.00" width="3.2" height="3.2" fill="#000"/><rect x="304.53" y="382.63" width="3.2" height="3.2" fill="#000"/><rect x="309.26" y="376.20" width="3.2" height="3.2" fill="#000"/><rect x="311.71" y="373.93" width="3.2" height="3.2" fill="#000"/><rect x="314.16" y="371.27" width="3.2" height="3.2" fill="#000"/><rect x="318.89" y="366.73" width="3.2" height="3.2" fill="#000"/><rect x="321.34" y="364.17" width="3.2" height="3.2" fill="#000"/><rect x="323.79" y="361.02" width="3.2" height="3.2" fill="#000"/><rect x="328.52" y="354.71" width="3.2" height="3.2" fill="#000"/><rect x="330.97" y="351.84" width="3.2" height="3.2" fill="#000"/><rect x="333.42" y="349.00" width="3.2" height="3.2" fill="#000"/><rect x="338.15" y="343.98" width="3.2" height="3.2" fill="#000"/><rect x="340.60" y="342.11" width="3.2" height="3.2" fill="#000"/><rect x="343.05" y="339.96" width="3.2" height="3.2" fill="#000"/><rect x="347.78" y="336.55" width="3.2" height="3.2" fill="#000"/><rect x="350.23" y="334.88" width="3.2" height="3.2" fill="#000"/><rect x="352.68" y="334.09" width="3.2" height="3.2" fill="#000"/><rect x="357.41" y="331.74" width="3.2" height="3.2" fill="#000"/><rect x="359.86" y="330.46" width="3.2" height="3.2" fill="#000"/><rect x="362.31" y="329.60" width="3.2" height="3.2" fill="#000"/><rect x="367.04" y="327.91" width="3.2" height="3.2" fill="#000"/><rect x="369.49" y="326.69" width="3.2" height="3.2" fill="#000"/><rect x="371.94" y="325.87" width="3.2" height="3.2" fill="#000"/><rect x="376.67" y="324.88" width="3.2" height="3.2" fill="#000"/><rect x="379.12" y="324.64" width="3.2" height="3.2" fill="#000"/><rect x="381.57" y="324.09" width="3.2" height="3.2" fill="#000"/><rect x="386.30" y="323.32" width="3.2" height="3.2" fill="#000"/><rect x="388.75" y="323.58" width="3.2" height="3.2" fill="#000"/><rect x="391.20" y="322.80" width="3.2" height="3.2" fill="#000"/><rect x="395.93" y="322.08" width="3.2" height="3.2" fill="#000"/><rect x="398.38" y="321.92" width="3.2" height="3.2" fill="#000"/><rect x="400.83" y="321.70" width="3.2" height="3.2" fill="#000"/><rect x="405.56" y="321.53" width="3.2" height="3.2" fill="#000"/><rect x="408.01" y="321.58" width="3.2" height="3.2" fill="#000"/><rect x="410.46" y="320.92" width="3.2" height="3.2" fill="#000"/>
<path d="M289.45 392.15L293.75 392.15L291.60 396.15Z" fill="#000"/><path d="M291.90 392.15L296.20 392.15L294.05 396.15Z" fill="#000"/><path d="M294.35 392.15L298.65 392.15L296.50 396.15Z" fill="#000"/><path d="M299.08 388.53L303.38 388.53L301.23 392.53Z" fill="#000"/><path d="M301.53 384.43L305.83 384.43L303.68 388.43Z" fill="#000"/><path d="M303.98 380.66L308.28 380.66L306.13 384.66Z" fill="#000"/><path d="M308.71 374.12L313.01 374.12L310.86 378.12Z" fill="#000"/><path d="M311.16 371.15L315.46 371.15L313.31 375.15Z" fill="#000"/><path d="M313.61 368.02L317.91 368.02L315.76 372.02Z" fill="#000"/><path d="M318.34 363.01L322.64 363.01L320.49 367.01Z" fill="#000"/><path d="M320.79 360.40L325.09 360.40L322.94 364.40Z" fill="#000"/><path d="M323.24 357.08L327.54 357.08L325.39 361.08Z" fill="#000"/><path d="M327.97 350.57L332.27 350.57L330.12 354.57Z" fill="#000"/><path d="M330.42 347.01L334.72 347.01L332.57 351.01Z" fill="#000"/><path d="M332.87 344.74L337.17 344.74L335.02 348.74Z" fill="#000"/><path d="M337.60 340.74L341.90 340.74L339.75 344.74Z" fill="#000"/><path d="M340.05 338.01L344.35 338.01L342.20 342.01Z" fill="#000"/><path d="M342.50 336.20L346.80 336.20L344.65 340.20Z" fill="#000"/><path d="M347.23 333.22L351.53 333.22L349.38 337.22Z" fill="#000"/><path d="M349.68 331.85L353.98 331.85L351.83 335.85Z" fill="#000"/><path d="M352.13 330.48L356.43 330.48L354.28 334.48Z" fill="#000"/><path d="M356.86 328.48L361.16 328.48L359.01 332.48Z" fill="#000"/><path d="M359.31 327.37L363.61 327.37L361.46 331.37Z" fill="#000"/><path d="M361.76 325.77L366.06 325.77L363.91 329.77Z" fill="#000"/><path d="M366.49 324.47L370.79 324.47L368.64 328.47Z" fill="#000"/><path d="M368.94 323.77L373.24 323.77L371.09 327.77Z" fill="#000"/><path d="M371.39 322.85L375.69 322.85L373.54 326.85Z" fill="#000"/><path d="M376.12 322.22L380.42 322.22L378.27 326.22Z" fill="#000"/><path d="M378.57 321.33L382.87 321.33L380.72 325.33Z" fill="#000"/><path d="M381.02 320.96L385.32 320.96L383.17 324.96Z" fill="#000"/><path d="M385.75 320.82L390.05 320.82L387.90 324.82Z" fill="#000"/><path d="M388.20 320.45L392.50 320.45L390.35 324.45Z" fill="#000"/><path d="M390.65 320.12L394.95 320.12L392.80 324.12Z" fill="#000"/><path d="M395.38 319.64L399.68 319.64L397.53 323.64Z" fill="#000"/><path d="M397.83 319.09L402.13 319.09L399.98 323.09Z" fill="#000"/><path d="M400.28 319.11L404.58 319.11L402.43 323.11Z" fill="#000"/><path d="M405.01 318.59L409.31 318.59L407.16 322.59Z" fill="#000"/><path d="M407.46 318.63L411.76 318.63L409.61 322.63Z" fill="#000"/><path d="M409.91 317.83L414.21 317.83L412.06 321.83Z" fill="#000"/>
<text x="357.20" y="413.46" text-anchor="middle" style="font-size:9.1px;font-weight:bold;" fill="#000">Time (hrs)</text>
<text x="270.90" y="346.30" text-anchor="middle" style="font-size:10.7px;" transform="rotate(-90 270.90 346.30)">% transmigration</text>
<text x="437.60" y="317.93" text-anchor="start" style="font-size:9.3px;" fill="#000">Non-transfected EC</text>
<path d="M431.2 313.00000000000006L435.8 313.00000000000006L433.5 317.3Z" fill="#000"/>
<text x="437.60" y="329.53" text-anchor="start" style="font-size:9.3px;" fill="#000">Control siRNA</text>
<rect x="431.60" y="324.60" width="3.80" height="3.80" fill="#000"/>
<text x="437.60" y="341.03" text-anchor="start" style="font-size:9.3px;" fill="#000">KDR siRNA</text>
<rect x="432.00" y="336.50" width="3.00" height="3.00" fill="#fff" stroke="#000" stroke-width="0.9"/>
<line x1="81.10" y1="561.50" x2="81.10" y2="463.58" stroke="#000" stroke-width="1.0"/>
<line x1="80.60" y1="561.00" x2="212.68" y2="561.00" stroke="#000" stroke-width="1.0"/>
<line x1="78.50" y1="561.00" x2="81.10" y2="561.00" stroke="#000" stroke-width="1.0"/>
<text x="78.30" y="563.18" text-anchor="end" style="font-size:6.1px;font-weight:bold;" fill="#000">0</text>
<line x1="78.50" y1="547.15" x2="81.10" y2="547.15" stroke="#000" stroke-width="1.0"/>
<text x="78.30" y="549.34" text-anchor="end" style="font-size:6.1px;font-weight:bold;" fill="#000">5</text>
<line x1="78.50" y1="533.31" x2="81.10" y2="533.31" stroke="#000" stroke-width="1.0"/>
<text x="78.30" y="535.49" text-anchor="end" style="font-size:6.1px;font-weight:bold;" fill="#000">10</text>
<line x1="78.50" y1="519.47" x2="81.10" y2="519.47" stroke="#000" stroke-width="1.0"/>
<text x="78.30" y="521.65" text-anchor="end" style="font-size:6.1px;font-weight:bold;" fill="#000">15</text>
<line x1="78.50" y1="505.62" x2="81.10" y2="505.62" stroke="#000" stroke-width="1.0"/>
<text x="78.30" y="507.80" text-anchor="end" style="font-size:6.1px;font-weight:bold;" fill="#000">20</text>
<line x1="78.50" y1="491.77" x2="81.10" y2="491.77" stroke="#000" stroke-width="1.0"/>
<text x="78.30" y="493.96" text-anchor="end" style="font-size:6.1px;font-weight:bold;" fill="#000">25</text>
<line x1="78.50" y1="477.93" x2="81.10" y2="477.93" stroke="#000" stroke-width="1.0"/>
<text x="78.30" y="480.11" text-anchor="end" style="font-size:6.1px;font-weight:bold;" fill="#000">30</text>
<line x1="78.50" y1="464.08" x2="81.10" y2="464.08" stroke="#000" stroke-width="1.0"/>
<text x="78.30" y="466.27" text-anchor="end" style="font-size:6.1px;font-weight:bold;" fill="#000">35</text>
<line x1="81.10" y1="561.00" x2="81.10" y2="563.40" stroke="#000" stroke-width="1.0"/>
<text x="81.10" y="570.48" text-anchor="middle" style="font-size:6.1px;font-weight:bold;" fill="#000">0</text>
<line x1="101.50" y1="561.00" x2="101.50" y2="563.40" stroke="#000" stroke-width="1.0"/>
<text x="101.50" y="570.48" text-anchor="middle" style="font-size:6.1px;font-weight:bold;" fill="#000">2</text>
<line x1="121.90" y1="561.00" x2="121.90" y2="563.40" stroke="#000" stroke-width="1.0"/>
<text x="121.90" y="570.48" text-anchor="middle" style="font-size:6.1px;font-weight:bold;" fill="#000">4</text>
<line x1="142.30" y1="561.00" x2="142.30" y2="563.40" stroke="#000" stroke-width="1.0"/>
<text x="142.30" y="570.48" text-anchor="middle" style="font-size:6.1px;font-weight:bold;" fill="#000">6</text>
<line x1="162.70" y1="561.00" x2="162.70" y2="563.40" stroke="#000" stroke-width="1.0"/>
<text x="162.70" y="570.48" text-anchor="middle" style="font-size:6.1px;font-weight:bold;" fill="#000">8</text>
<line x1="183.10" y1="561.00" x2="183.10" y2="563.40" stroke="#000" stroke-width="1.0"/>
<text x="183.10" y="570.48" text-anchor="middle" style="font-size:6.1px;font-weight:bold;" fill="#000">10</text>
<line x1="203.50" y1="561.00" x2="203.50" y2="563.40" stroke="#000" stroke-width="1.0"/>
<text x="203.50" y="570.48" text-anchor="middle" style="font-size:6.1px;font-weight:bold;" fill="#000">12</text>
<rect x="99.77" y="546.54" width="2.00" height="2.00" fill="#fff" stroke="#000" stroke-width="0.7"/><rect x="102.26" y="543.22" width="2.00" height="2.00" fill="#fff" stroke="#000" stroke-width="0.7"/><rect x="104.76" y="541.19" width="2.00" height="2.00" fill="#fff" stroke="#000" stroke-width="0.7"/><rect x="109.60" y="536.91" width="2.00" height="2.00" fill="#fff" stroke="#000" stroke-width="0.7"/><rect x="112.10" y="535.74" width="2.00" height="2.00" fill="#fff" stroke="#000" stroke-width="0.7"/><rect x="114.60" y="534.16" width="2.00" height="2.00" fill="#fff" stroke="#000" stroke-width="0.7"/><rect x="119.43" y="530.45" width="2.00" height="2.00" fill="#fff" stroke="#000" stroke-width="0.7"/><rect x="121.93" y="527.37" width="2.00" height="2.00" fill="#fff" stroke="#000" stroke-width="0.7"/><rect x="124.43" y="526.34" width="2.00" height="2.00" fill="#fff" stroke="#000" stroke-width="0.7"/><rect x="129.26" y="525.54" width="2.00" height="2.00" fill="#fff" stroke="#000" stroke-width="0.7"/><rect x="131.76" y="524.56" width="2.00" height="2.00" fill="#fff" stroke="#000" stroke-width="0.7"/><rect x="134.26" y="523.88" width="2.00" height="2.00" fill="#fff" stroke="#000" stroke-width="0.7"/><rect x="139.10" y="521.54" width="2.00" height="2.00" fill="#fff" stroke="#000" stroke-width="0.7"/><rect x="141.60" y="519.90" width="2.00" height="2.00" fill="#fff" stroke="#000" stroke-width="0.7"/><rect x="144.09" y="518.89" width="2.00" height="2.00" fill="#fff" stroke="#000" stroke-width="0.7"/><rect x="148.93" y="517.68" width="2.00" height="2.00" fill="#fff" stroke="#000" stroke-width="0.7"/><rect x="151.43" y="516.73" width="2.00" height="2.00" fill="#fff" stroke="#000" stroke-width="0.7"/><rect x="153.93" y="515.41" width="2.00" height="2.00" fill="#fff" stroke="#000" stroke-width="0.7"/><rect x="158.76" y="514.46" width="2.00" height="2.00" fill="#fff" stroke="#000" stroke-width="0.7"/><rect x="161.26" y="513.84" width="2.00" height="2.00" fill="#fff" stroke="#000" stroke-width="0.7"/><rect x="163.76" y="513.36" width="2.00" height="2.00" fill="#fff" stroke="#000" stroke-width="0.7"/><rect x="168.60" y="512.37" width="2.00" height="2.00" fill="#fff" stroke="#000" stroke-width="0.7"/><rect x="171.09" y="512.16" width="2.00" height="2.00" fill="#fff" stroke="#000" stroke-width="0.7"/><rect x="173.59" y="511.37" width="2.00" height="2.00" fill="#fff" stroke="#000" stroke-width="0.7"/><rect x="178.43" y="510.29" width="2.00" height="2.00" fill="#fff" stroke="#000" stroke-width="0.7"/><rect x="180.93" y="509.88" width="2.00" height="2.00" fill="#fff" stroke="#000" stroke-width="0.7"/><rect x="183.43" y="509.35" width="2.00" height="2.00" fill="#fff" stroke="#000" stroke-width="0.7"/><rect x="188.26" y="508.97" width="2.00" height="2.00" fill="#fff" stroke="#000" stroke-width="0.7"/><rect x="190.76" y="508.74" width="2.00" height="2.00" fill="#fff" stroke="#000" stroke-width="0.7"/><rect x="193.26" y="508.50" width="2.00" height="2.00" fill="#fff" stroke="#000" stroke-width="0.7"/><rect x="198.09" y="508.31" width="2.00" height="2.00" fill="#fff" stroke="#000" stroke-width="0.7"/><rect x="200.59" y="508.46" width="2.00" height="2.00" fill="#fff" stroke="#000" stroke-width="0.7"/><rect x="203.09" y="508.32" width="2.00" height="2.00" fill="#fff" stroke="#000" stroke-width="0.7"/>
<rect x="79.60" y="559.50" width="3.0" height="3.0" fill="#000"/><rect x="82.10" y="559.50" width="3.0" height="3.0" fill="#000"/><rect x="84.60" y="559.50" width="3.0" height="3.0" fill="#000"/><rect x="89.43" y="557.45" width="3.0" height="3.0" fill="#000"/><rect x="91.93" y="553.33" width="3.0" height="3.0" fill="#000"/><rect x="94.43" y="548.32" width="3.0" height="3.0" fill="#000"/><rect x="99.27" y="545.41" width="3.0" height="3.0" fill="#000"/><rect x="101.76" y="540.63" width="3.0" height="3.0" fill="#000"/><rect x="104.26" y="537.91" width="3.0" height="3.0" fill="#000"/><rect x="109.10" y="532.81" width="3.0" height="3.0" fill="#000"/><rect x="111.60" y="530.34" width="3.0" height="3.0" fill="#000"/><rect x="114.10" y="527.68" width="3.0" height="3.0" fill="#000"/><rect x="118.93" y="522.09" width="3.0" height="3.0" fill="#000"/><rect x="121.43" y="517.87" width="3.0" height="3.0" fill="#000"/><rect x="123.93" y="514.66" width="3.0" height="3.0" fill="#000"/><rect x="128.76" y="510.88" width="3.0" height="3.0" fill="#000"/><rect x="131.26" y="507.89" width="3.0" height="3.0" fill="#000"/><rect x="133.76" y="505.73" width="3.0" height="3.0" fill="#000"/><rect x="138.60" y="502.71" width="3.0" height="3.0" fill="#000"/><rect x="141.10" y="501.60" width="3.0" height="3.0" fill="#000"/><rect x="143.59" y="500.81" width="3.0" height="3.0" fill="#000"/><rect x="148.43" y="498.36" width="3.0" height="3.0" fill="#000"/><rect x="150.93" y="497.26" width="3.0" height="3.0" fill="#000"/><rect x="153.43" y="495.93" width="3.0" height="3.0" fill="#000"/><rect x="158.26" y="494.15" width="3.0" height="3.0" fill="#000"/><rect x="160.76" y="493.76" width="3.0" height="3.0" fill="#000"/><rect x="163.26" y="493.28" width="3.0" height="3.0" fill="#000"/><rect x="168.10" y="491.35" width="3.0" height="3.0" fill="#000"/><rect x="170.59" y="490.70" width="3.0" height="3.0" fill="#000"/><rect x="173.09" y="490.57" width="3.0" height="3.0" fill="#000"/><rect x="177.93" y="489.85" width="3.0" height="3.0" fill="#000"/><rect x="180.43" y="489.61" width="3.0" height="3.0" fill="#000"/><rect x="182.93" y="489.72" width="3.0" height="3.0" fill="#000"/><rect x="187.76" y="488.94" width="3.0" height="3.0" fill="#000"/><rect x="190.26" y="488.94" width="3.0" height="3.0" fill="#000"/><rect x="192.76" y="488.71" width="3.0" height="3.0" fill="#000"/><rect x="197.59" y="488.25" width="3.0" height="3.0" fill="#000"/><rect x="200.09" y="488.20" width="3.0" height="3.0" fill="#000"/><rect x="202.59" y="488.37" width="3.0" height="3.0" fill="#000"/>
<text x="146.30" y="583.36" text-anchor="middle" style="font-size:9.1px;font-weight:bold;" fill="#000">Time (hrs)</text>
<text x="63.70" y="513.00" text-anchor="middle" style="font-size:10.7px;" transform="rotate(-90 63.70 513.00)">% transmigration</text>
<text x="104.60" y="492.93" text-anchor="start" style="font-size:9.3px;" fill="#000">Control IgG</text>
<text x="168.40" y="525.33" text-anchor="start" style="font-size:9.3px;" fill="#000">anti-KDR</text>
<path d="M210.40 491.30H215.40V507.20H210.40" fill="none" stroke="#6a6a6a" stroke-width="0.9"/>
<text x="218.50" y="501.00" text-anchor="start" style="font-size:7.1px;" fill="#222"><tspan style="font-style:italic">P</tspan> &lt; .01</text>
<text x="146.80" y="440.53" text-anchor="middle" style="font-size:10.7px;" fill="#000">Control siRNA transfected EC</text>
<path d="M76.2 449.0V443.4H218.3V449.0" fill="none" stroke="#000" stroke-width="1.3"/>
<line x1="291.30" y1="561.20" x2="291.30" y2="463.32" stroke="#000" stroke-width="1.0"/>
<line x1="290.80" y1="560.70" x2="422.11" y2="560.70" stroke="#000" stroke-width="1.0"/>
<line x1="288.70" y1="560.70" x2="291.30" y2="560.70" stroke="#000" stroke-width="1.0"/>
<text x="288.50" y="562.88" text-anchor="end" style="font-size:6.1px;font-weight:bold;" fill="#000">0</text>
<line x1="288.70" y1="546.86" x2="291.30" y2="546.86" stroke="#000" stroke-width="1.0"/>
<text x="288.50" y="549.04" text-anchor="end" style="font-size:6.1px;font-weight:bold;" fill="#000">5</text>
<line x1="288.70" y1="533.02" x2="291.30" y2="533.02" stroke="#000" stroke-width="1.0"/>
<text x="288.50" y="535.20" text-anchor="end" style="font-size:6.1px;font-weight:bold;" fill="#000">10</text>
<line x1="288.70" y1="519.18" x2="291.30" y2="519.18" stroke="#000" stroke-width="1.0"/>
<text x="288.50" y="521.36" text-anchor="end" style="font-size:6.1px;font-weight:bold;" fill="#000">15</text>
<line x1="288.70" y1="505.34" x2="291.30" y2="505.34" stroke="#000" stroke-width="1.0"/>
<text x="288.50" y="507.52" text-anchor="end" style="font-size:6.1px;font-weight:bold;" fill="#000">20</text>
<line x1="288.70" y1="491.50" x2="291.30" y2="491.50" stroke="#000" stroke-width="1.0"/>
<text x="288.50" y="493.68" text-anchor="end" style="font-size:6.1px;font-weight:bold;" fill="#000">25</text>
<line x1="288.70" y1="477.66" x2="291.30" y2="477.66" stroke="#000" stroke-width="1.0"/>
<text x="288.50" y="479.84" text-anchor="end" style="font-size:6.1px;font-weight:bold;" fill="#000">30</text>
<line x1="288.70" y1="463.82" x2="291.30" y2="463.82" stroke="#000" stroke-width="1.0"/>
<text x="288.50" y="466.00" text-anchor="end" style="font-size:6.1px;font-weight:bold;" fill="#000">35</text>
<line x1="291.30" y1="560.70" x2="291.30" y2="563.10" stroke="#000" stroke-width="1.0"/>
<text x="291.30" y="570.18" text-anchor="middle" style="font-size:6.1px;font-weight:bold;" fill="#000">0</text>
<line x1="311.58" y1="560.70" x2="311.58" y2="563.10" stroke="#000" stroke-width="1.0"/>
<text x="311.58" y="570.18" text-anchor="middle" style="font-size:6.1px;font-weight:bold;" fill="#000">2</text>
<line x1="331.86" y1="560.70" x2="331.86" y2="563.10" stroke="#000" stroke-width="1.0"/>
<text x="331.86" y="570.18" text-anchor="middle" style="font-size:6.1px;font-weight:bold;" fill="#000">4</text>
<line x1="352.14" y1="560.70" x2="352.14" y2="563.10" stroke="#000" stroke-width="1.0"/>
<text x="352.14" y="570.18" text-anchor="middle" style="font-size:6.1px;font-weight:bold;" fill="#000">6</text>
<line x1="372.42" y1="560.70" x2="372.42" y2="563.10" stroke="#000" stroke-width="1.0"/>
<text x="372.42" y="570.18" text-anchor="middle" style="font-size:6.1px;font-weight:bold;" fill="#000">8</text>
<line x1="392.70" y1="560.70" x2="392.70" y2="563.10" stroke="#000" stroke-width="1.0"/>
<text x="392.70" y="570.18" text-anchor="middle" style="font-size:6.1px;font-weight:bold;" fill="#000">10</text>
<line x1="412.98" y1="560.70" x2="412.98" y2="563.10" stroke="#000" stroke-width="1.0"/>
<text x="412.98" y="570.18" text-anchor="middle" style="font-size:6.1px;font-weight:bold;" fill="#000">12</text>
<rect x="329.40" y="531.01" width="2.00" height="2.00" fill="#fff" stroke="#000" stroke-width="0.7"/><rect x="331.88" y="526.15" width="2.00" height="2.00" fill="#fff" stroke="#000" stroke-width="0.7"/><rect x="334.37" y="525.21" width="2.00" height="2.00" fill="#fff" stroke="#000" stroke-width="0.7"/><rect x="339.17" y="524.68" width="2.00" height="2.00" fill="#fff" stroke="#000" stroke-width="0.7"/><rect x="341.66" y="524.18" width="2.00" height="2.00" fill="#fff" stroke="#000" stroke-width="0.7"/><rect x="344.14" y="523.56" width="2.00" height="2.00" fill="#fff" stroke="#000" stroke-width="0.7"/><rect x="348.95" y="521.00" width="2.00" height="2.00" fill="#fff" stroke="#000" stroke-width="0.7"/><rect x="351.43" y="519.81" width="2.00" height="2.00" fill="#fff" stroke="#000" stroke-width="0.7"/><rect x="353.92" y="518.96" width="2.00" height="2.00" fill="#fff" stroke="#000" stroke-width="0.7"/><rect x="358.72" y="518.01" width="2.00" height="2.00" fill="#fff" stroke="#000" stroke-width="0.7"/><rect x="361.21" y="517.23" width="2.00" height="2.00" fill="#fff" stroke="#000" stroke-width="0.7"/><rect x="363.69" y="516.01" width="2.00" height="2.00" fill="#fff" stroke="#000" stroke-width="0.7"/><rect x="368.50" y="512.98" width="2.00" height="2.00" fill="#fff" stroke="#000" stroke-width="0.7"/><rect x="370.98" y="512.18" width="2.00" height="2.00" fill="#fff" stroke="#000" stroke-width="0.7"/><rect x="373.47" y="511.60" width="2.00" height="2.00" fill="#fff" stroke="#000" stroke-width="0.7"/><rect x="378.27" y="511.67" width="2.00" height="2.00" fill="#fff" stroke="#000" stroke-width="0.7"/><rect x="380.76" y="511.08" width="2.00" height="2.00" fill="#fff" stroke="#000" stroke-width="0.7"/><rect x="383.24" y="511.00" width="2.00" height="2.00" fill="#fff" stroke="#000" stroke-width="0.7"/><rect x="388.05" y="510.13" width="2.00" height="2.00" fill="#fff" stroke="#000" stroke-width="0.7"/><rect x="390.53" y="510.05" width="2.00" height="2.00" fill="#fff" stroke="#000" stroke-width="0.7"/><rect x="393.02" y="509.67" width="2.00" height="2.00" fill="#fff" stroke="#000" stroke-width="0.7"/><rect x="397.82" y="509.50" width="2.00" height="2.00" fill="#fff" stroke="#000" stroke-width="0.7"/><rect x="400.31" y="509.15" width="2.00" height="2.00" fill="#fff" stroke="#000" stroke-width="0.7"/><rect x="402.79" y="508.66" width="2.00" height="2.00" fill="#fff" stroke="#000" stroke-width="0.7"/><rect x="407.60" y="508.31" width="2.00" height="2.00" fill="#fff" stroke="#000" stroke-width="0.7"/><rect x="410.08" y="508.29" width="2.00" height="2.00" fill="#fff" stroke="#000" stroke-width="0.7"/><rect x="412.57" y="508.47" width="2.00" height="2.00" fill="#fff" stroke="#000" stroke-width="0.7"/>
<rect x="289.80" y="559.20" width="3.0" height="3.0" fill="#000"/><rect x="292.28" y="559.20" width="3.0" height="3.0" fill="#000"/><rect x="294.77" y="559.20" width="3.0" height="3.0" fill="#000"/><rect x="299.57" y="558.53" width="3.0" height="3.0" fill="#000"/><rect x="302.06" y="553.40" width="3.0" height="3.0" fill="#000"/><rect x="304.54" y="549.54" width="3.0" height="3.0" fill="#000"/><rect x="309.35" y="546.01" width="3.0" height="3.0" fill="#000"/><rect x="311.83" y="542.20" width="3.0" height="3.0" fill="#000"/><rect x="314.32" y="540.38" width="3.0" height="3.0" fill="#000"/><rect x="319.12" y="536.93" width="3.0" height="3.0" fill="#000"/><rect x="321.61" y="535.19" width="3.0" height="3.0" fill="#000"/><rect x="324.09" y="532.66" width="3.0" height="3.0" fill="#000"/><rect x="328.90" y="526.67" width="3.0" height="3.0" fill="#000"/><rect x="331.38" y="521.20" width="3.0" height="3.0" fill="#000"/><rect x="333.87" y="518.73" width="3.0" height="3.0" fill="#000"/><rect x="338.67" y="515.89" width="3.0" height="3.0" fill="#000"/><rect x="341.16" y="514.45" width="3.0" height="3.0" fill="#000"/><rect x="343.64" y="511.60" width="3.0" height="3.0" fill="#000"/><rect x="348.45" y="509.62" width="3.0" height="3.0" fill="#000"/><rect x="350.93" y="507.57" width="3.0" height="3.0" fill="#000"/><rect x="353.42" y="506.37" width="3.0" height="3.0" fill="#000"/><rect x="358.22" y="505.16" width="3.0" height="3.0" fill="#000"/><rect x="360.71" y="504.45" width="3.0" height="3.0" fill="#000"/><rect x="363.19" y="503.20" width="3.0" height="3.0" fill="#000"/><rect x="368.00" y="501.32" width="3.0" height="3.0" fill="#000"/><rect x="370.48" y="500.79" width="3.0" height="3.0" fill="#000"/><rect x="372.97" y="500.19" width="3.0" height="3.0" fill="#000"/><rect x="377.77" y="499.77" width="3.0" height="3.0" fill="#000"/><rect x="380.26" y="499.59" width="3.0" height="3.0" fill="#000"/><rect x="382.74" y="499.38" width="3.0" height="3.0" fill="#000"/><rect x="387.55" y="498.53" width="3.0" height="3.0" fill="#000"/><rect x="390.03" y="498.03" width="3.0" height="3.0" fill="#000"/><rect x="392.52" y="497.78" width="3.0" height="3.0" fill="#000"/><rect x="397.32" y="496.73" width="3.0" height="3.0" fill="#000"/><rect x="399.81" y="495.69" width="3.0" height="3.0" fill="#000"/><rect x="402.29" y="495.35" width="3.0" height="3.0" fill="#000"/><rect x="407.10" y="495.26" width="3.0" height="3.0" fill="#000"/><rect x="409.58" y="495.64" width="3.0" height="3.0" fill="#000"/><rect x="412.07" y="496.07" width="3.0" height="3.0" fill="#000"/>
<text x="357.00" y="583.26" text-anchor="middle" style="font-size:9.1px;font-weight:bold;" fill="#000">Time (hrs)</text>
<text x="271.90" y="513.00" text-anchor="middle" style="font-size:10.7px;" transform="rotate(-90 271.90 513.00)">% transmigration</text>
<text x="317.80" y="498.53" text-anchor="start" style="font-size:9.3px;" fill="#000">Control IgG</text>
<text x="380.60" y="524.93" text-anchor="start" style="font-size:9.3px;" fill="#000">anti-KDR</text>
<path d="M421.00 497.20H426.60V509.50H421.00" fill="none" stroke="#6a6a6a" stroke-width="0.9"/>
<text x="429.90" y="504.90" text-anchor="start" style="font-size:7.1px;" fill="#222"><tspan style="font-style:italic">P</tspan> &lt; .01</text>
<text x="360.60" y="440.13" text-anchor="middle" style="font-size:10.7px;" fill="#000">KDR siRNA transfected EC</text>
<path d="M288.5 448.4V442.9H430.8V448.4" fill="none" stroke="#000" stroke-width="1.3"/>
<rect x="126.30" y="630.30" width="81.90" height="104.40" fill="none" stroke="#777" stroke-width="0.8"/>
<line x1="126.30" y1="630.30" x2="126.30" y2="734.70" stroke="#333" stroke-width="0.9"/>
<line x1="126.30" y1="734.70" x2="208.20" y2="734.70" stroke="#333" stroke-width="0.9"/>
<line x1="124.30" y1="734.70" x2="126.30" y2="734.70" stroke="#000" stroke-width="0.8"/>
<text x="123.60" y="736.31" text-anchor="end" style="font-size:4.5px;font-weight:bold;" fill="#000">0</text>
<line x1="124.30" y1="699.90" x2="126.30" y2="699.90" stroke="#000" stroke-width="0.8"/>
<text x="123.60" y="701.51" text-anchor="end" style="font-size:4.5px;font-weight:bold;" fill="#000">10</text>
<line x1="124.30" y1="665.10" x2="126.30" y2="665.10" stroke="#000" stroke-width="0.8"/>
<text x="123.60" y="666.71" text-anchor="end" style="font-size:4.5px;font-weight:bold;" fill="#000">20</text>
<line x1="124.30" y1="630.30" x2="126.30" y2="630.30" stroke="#000" stroke-width="0.8"/>
<text x="123.60" y="631.91" text-anchor="end" style="font-size:4.5px;font-weight:bold;" fill="#000">30</text>
<line x1="125.10" y1="717.30" x2="126.30" y2="717.30" stroke="#444" stroke-width="0.6"/>
<line x1="125.10" y1="682.50" x2="126.30" y2="682.50" stroke="#444" stroke-width="0.6"/>
<line x1="125.10" y1="647.70" x2="126.30" y2="647.70" stroke="#444" stroke-width="0.6"/>
<line x1="135.65" y1="727.04" x2="135.65" y2="723.22" stroke="#222" stroke-width="1.0"/>
<line x1="132.85" y1="723.22" x2="138.45" y2="723.22" stroke="#222" stroke-width="1.0"/>
<rect x="131.20" y="727.04" width="8.90" height="7.66" fill="#000"/>
<line x1="152.20" y1="697.81" x2="152.20" y2="693.29" stroke="#222" stroke-width="1.0"/>
<line x1="149.40" y1="693.29" x2="155.00" y2="693.29" stroke="#222" stroke-width="1.0"/>
<rect x="148.10" y="697.81" width="8.20" height="36.89" fill="#8a8a8a" stroke="#222" stroke-width="0.8"/>
<line x1="167.45" y1="653.27" x2="167.45" y2="643.52" stroke="#222" stroke-width="1.0"/>
<line x1="164.65" y1="643.52" x2="170.25" y2="643.52" stroke="#222" stroke-width="1.0"/>
<rect x="163.20" y="653.27" width="8.50" height="81.43" fill="#8a8a8a" stroke="#222" stroke-width="0.8"/>
<line x1="183.85" y1="645.61" x2="183.85" y2="635.17" stroke="#222" stroke-width="1.0"/>
<line x1="181.05" y1="635.17" x2="186.65" y2="635.17" stroke="#222" stroke-width="1.0"/>
<rect x="179.70" y="645.61" width="8.30" height="89.09" fill="#fff" stroke="#222" stroke-width="0.8"/>
<line x1="199.50" y1="669.28" x2="199.50" y2="662.66" stroke="#222" stroke-width="1.0"/>
<line x1="196.70" y1="662.66" x2="202.30" y2="662.66" stroke="#222" stroke-width="1.0"/>
<rect x="195.00" y="669.28" width="9.00" height="65.42" fill="url(#grid)" stroke="#222" stroke-width="0.8"/>
<text x="166.50" y="643.71" text-anchor="middle" style="font-size:14px;font-weight:bold;" fill="#000">*</text>
<text x="189.40" y="643.71" text-anchor="middle" style="font-size:14px;font-weight:bold;" fill="#000">*</text>
<text x="198.80" y="663.61" text-anchor="middle" style="font-size:14px;font-weight:bold;" fill="#000">*</text>
<text x="168.80" y="610.68" text-anchor="middle" style="font-size:12.5px;font-weight:bold;" fill="#000">CD4+</text>
<text x="168.80" y="624.98" text-anchor="middle" style="font-size:12.5px;font-weight:bold;" fill="#000">T Cells</text>
<text x="131.50" y="644.94" text-anchor="start" style="font-size:11px;" fill="#000">n=3</text>
<text x="99.50" y="681.50" text-anchor="middle" style="font-size:11.45px;" transform="rotate(-90 99.50 681.50)">% inhibition of T cell</text>
<text x="112.80" y="681.30" text-anchor="middle" style="font-size:11.55px;" transform="rotate(-90 112.80 681.30)">transmigration</text>
<text x="77.30" y="750.21" text-anchor="start" style="font-size:11.2px;" fill="#000">Anti-KDR</text>
<text x="134.60" y="749.50" text-anchor="middle" style="font-size:12px;font-weight:bold;" fill="#000">-</text>
<text x="151.50" y="749.50" text-anchor="middle" style="font-size:12px;font-weight:bold;" fill="#000">-</text>
<text x="167.00" y="749.74" text-anchor="middle" style="font-size:11px;font-weight:bold;" fill="#000">+</text>
<text x="183.20" y="749.74" text-anchor="middle" style="font-size:11px;font-weight:bold;" fill="#000">+</text>
<text x="199.20" y="749.74" text-anchor="middle" style="font-size:11px;font-weight:bold;" fill="#000">+</text>
<rect x="316.60" y="631.20" width="85.10" height="104.00" fill="none" stroke="#777" stroke-width="0.8"/>
<line x1="316.60" y1="631.20" x2="316.60" y2="735.20" stroke="#333" stroke-width="0.9"/>
<line x1="316.60" y1="735.20" x2="401.70" y2="735.20" stroke="#333" stroke-width="0.9"/>
<line x1="314.60" y1="735.20" x2="316.60" y2="735.20" stroke="#000" stroke-width="0.8"/>
<text x="313.90" y="736.81" text-anchor="end" style="font-size:4.5px;font-weight:bold;" fill="#000">0</text>
<line x1="314.60" y1="700.53" x2="316.60" y2="700.53" stroke="#000" stroke-width="0.8"/>
<text x="313.90" y="702.14" text-anchor="end" style="font-size:4.5px;font-weight:bold;" fill="#000">10</text>
<line x1="314.60" y1="665.87" x2="316.60" y2="665.87" stroke="#000" stroke-width="0.8"/>
<text x="313.90" y="667.48" text-anchor="end" style="font-size:4.5px;font-weight:bold;" fill="#000">20</text>
<line x1="314.60" y1="631.20" x2="316.60" y2="631.20" stroke="#000" stroke-width="0.8"/>
<text x="313.90" y="632.81" text-anchor="end" style="font-size:4.5px;font-weight:bold;" fill="#000">30</text>
<line x1="315.40" y1="717.87" x2="316.60" y2="717.87" stroke="#444" stroke-width="0.6"/>
<line x1="315.40" y1="683.20" x2="316.60" y2="683.20" stroke="#444" stroke-width="0.6"/>
<line x1="315.40" y1="648.53" x2="316.60" y2="648.53" stroke="#444" stroke-width="0.6"/>
<line x1="326.60" y1="729.65" x2="326.60" y2="727.92" stroke="#222" stroke-width="1.0"/>
<line x1="323.80" y1="727.92" x2="329.40" y2="727.92" stroke="#222" stroke-width="1.0"/>
<rect x="321.80" y="729.65" width="9.60" height="5.55" fill="#000"/>
<line x1="343.05" y1="702.96" x2="343.05" y2="698.45" stroke="#222" stroke-width="1.0"/>
<line x1="340.25" y1="698.45" x2="345.85" y2="698.45" stroke="#222" stroke-width="1.0"/>
<rect x="338.90" y="702.96" width="8.30" height="32.24" fill="#8a8a8a" stroke="#222" stroke-width="0.8"/>
<line x1="359.30" y1="656.51" x2="359.30" y2="644.37" stroke="#222" stroke-width="1.0"/>
<line x1="356.50" y1="644.37" x2="362.10" y2="644.37" stroke="#222" stroke-width="1.0"/>
<rect x="355.00" y="656.51" width="8.60" height="78.69" fill="#8a8a8a" stroke="#222" stroke-width="0.8"/>
<line x1="375.90" y1="643.68" x2="375.90" y2="633.97" stroke="#222" stroke-width="1.0"/>
<line x1="373.10" y1="633.97" x2="378.70" y2="633.97" stroke="#222" stroke-width="1.0"/>
<rect x="371.60" y="643.68" width="8.60" height="91.52" fill="#fff" stroke="#222" stroke-width="0.8"/>
<line x1="392.60" y1="672.11" x2="392.60" y2="663.09" stroke="#222" stroke-width="1.0"/>
<line x1="389.80" y1="663.09" x2="395.40" y2="663.09" stroke="#222" stroke-width="1.0"/>
<rect x="388.00" y="672.11" width="9.20" height="63.09" fill="url(#grid)" stroke="#222" stroke-width="0.8"/>
<text x="358.50" y="645.41" text-anchor="middle" style="font-size:14px;font-weight:bold;" fill="#000">*</text>
<text x="382.40" y="644.41" text-anchor="middle" style="font-size:14px;font-weight:bold;" fill="#000">*</text>
<text x="391.70" y="664.91" text-anchor="middle" style="font-size:14px;font-weight:bold;" fill="#000">*</text>
<text x="361.80" y="611.77" text-anchor="middle" style="font-size:12.5px;font-weight:bold;" fill="#000">CD8+</text>
<text x="361.80" y="625.48" text-anchor="middle" style="font-size:12.5px;font-weight:bold;" fill="#000">T Cells</text>
<text x="322.70" y="645.74" text-anchor="start" style="font-size:11px;" fill="#000">n=3</text>
<text x="289.50" y="682.20" text-anchor="middle" style="font-size:11.45px;" transform="rotate(-90 289.50 682.20)">% inhibition of T cell</text>
<text x="302.80" y="682.00" text-anchor="middle" style="font-size:11.55px;" transform="rotate(-90 302.80 682.00)">transmigration</text>
<text x="269.80" y="752.01" text-anchor="start" style="font-size:11.2px;" fill="#000">Anti-KDR</text>
<text x="327.00" y="751.30" text-anchor="middle" style="font-size:12px;font-weight:bold;" fill="#000">-</text>
<text x="343.70" y="751.30" text-anchor="middle" style="font-size:12px;font-weight:bold;" fill="#000">-</text>
<text x="359.00" y="751.54" text-anchor="middle" style="font-size:11px;font-weight:bold;" fill="#000">+</text>
<text x="376.00" y="751.54" text-anchor="middle" style="font-size:11px;font-weight:bold;" fill="#000">+</text>
<text x="391.70" y="751.54" text-anchor="middle" style="font-size:11px;font-weight:bold;" fill="#000">+</text>
</svg>
</body></html>
